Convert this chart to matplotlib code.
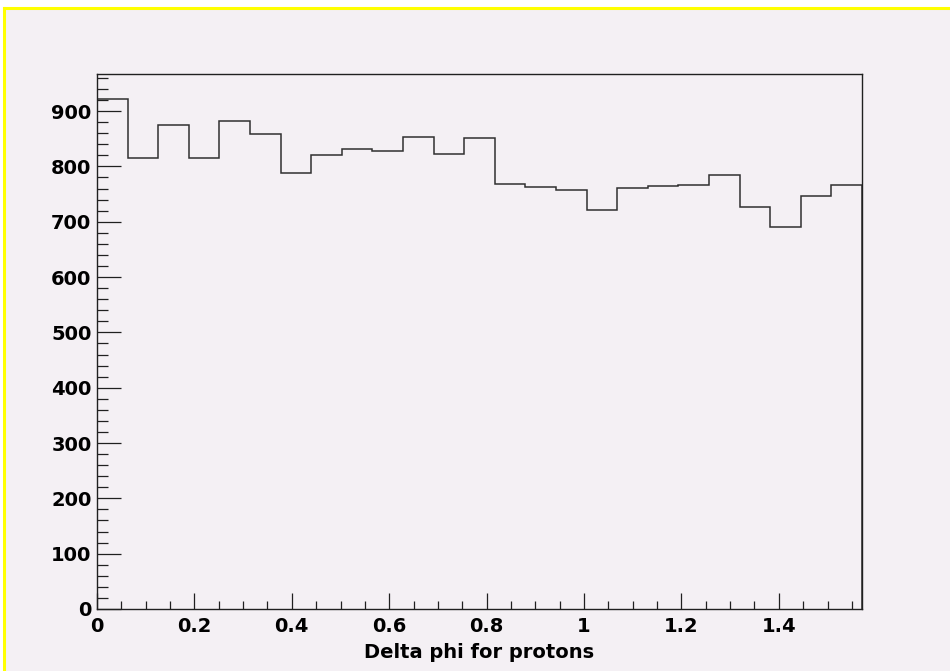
import matplotlib as mpl
mpl.use('agg')
import matplotlib.pyplot as plt
from matplotlib.lines import Line2D
from matplotlib.patches import Rectangle
from matplotlib.ticker import MultipleLocator
import numpy as np

# histogram contents, 25 bins over [0, pi/2]
nbins = 25
counts = [921, 815, 874, 815, 882, 859, 789, 820, 831, 828, 854, 823, 851,
          769, 762, 757, 721, 761, 764, 766, 784, 726, 690, 746, 767]
xlabel = 'Delta phi for protons'
xticks = [0, 0.2, 0.4, 0.6, 0.8, 1.0, 1.2, 1.4]
xticklabels = ['0', '0.2', '0.4', '0.6', '0.8', '1', '1.2', '1.4']
yticks = list(range(0, 1000, 100))

W, H = 950, 671
bg = '#f4f0f4'
plt.rcParams['font.family'] = ['DejaVu Sans']
plt.rcParams['font.weight'] = 'bold'

fig = plt.figure(figsize=(W/100, H/100), dpi=100, facecolor=bg)

# white margin outside the yellow frame (top and left edges)
fig.patches.append(Rectangle((0, 1 - 7/H), 1, 7/H, transform=fig.transFigure,
                             facecolor='white', edgecolor='none', zorder=-5))
fig.patches.append(Rectangle((0, 0), 3/W, 1, transform=fig.transFigure,
                             facecolor='white', edgecolor='none', zorder=-5))
fig.lines.append(Line2D([4/W, 1], [1 - 8/H, 1 - 8/H], transform=fig.transFigure,
                        color='#ffff00', lw=2.2, zorder=-4))
fig.lines.append(Line2D([4/W, 4/W], [0, 1 - 8/H], transform=fig.transFigure,
                        color='#ffff00', lw=2.2, zorder=-4))

ax = fig.add_axes([97/W, 1 - 609/H, 765/W, (609 - 74)/H])
ax.set_facecolor(bg)

edges = np.linspace(0, np.pi/2, nbins + 1)
ax.stairs(counts, edges, color='#303030', lw=1.1)

ax.set_xlim(0, np.pi/2)
ax.set_ylim(0, 1.05*max(counts))

ax.set_xticks(xticks)
ax.set_xticklabels(xticklabels)
ax.set_yticks(yticks)
ax.xaxis.set_minor_locator(MultipleLocator(0.05))
ax.yaxis.set_minor_locator(MultipleLocator(20))

for s in ax.spines.values():
    s.set_linewidth(1.0)
    s.set_color('#202020')

ax.tick_params(axis='both', which='both', direction='in', color='#202020',
               width=0.9, labelsize=14, top=False, right=False)
ax.tick_params(axis='y', which='major', length=17, pad=4)
ax.tick_params(axis='y', which='minor', length=8)
ax.tick_params(axis='x', which='major', length=11.5, pad=6)
ax.tick_params(axis='x', which='minor', length=5.8)

ax.set_xlabel(xlabel, fontsize=14, fontweight='bold', labelpad=5)

fig.savefig('out.png', dpi=100, facecolor=fig.get_facecolor())
plt.close(fig)
